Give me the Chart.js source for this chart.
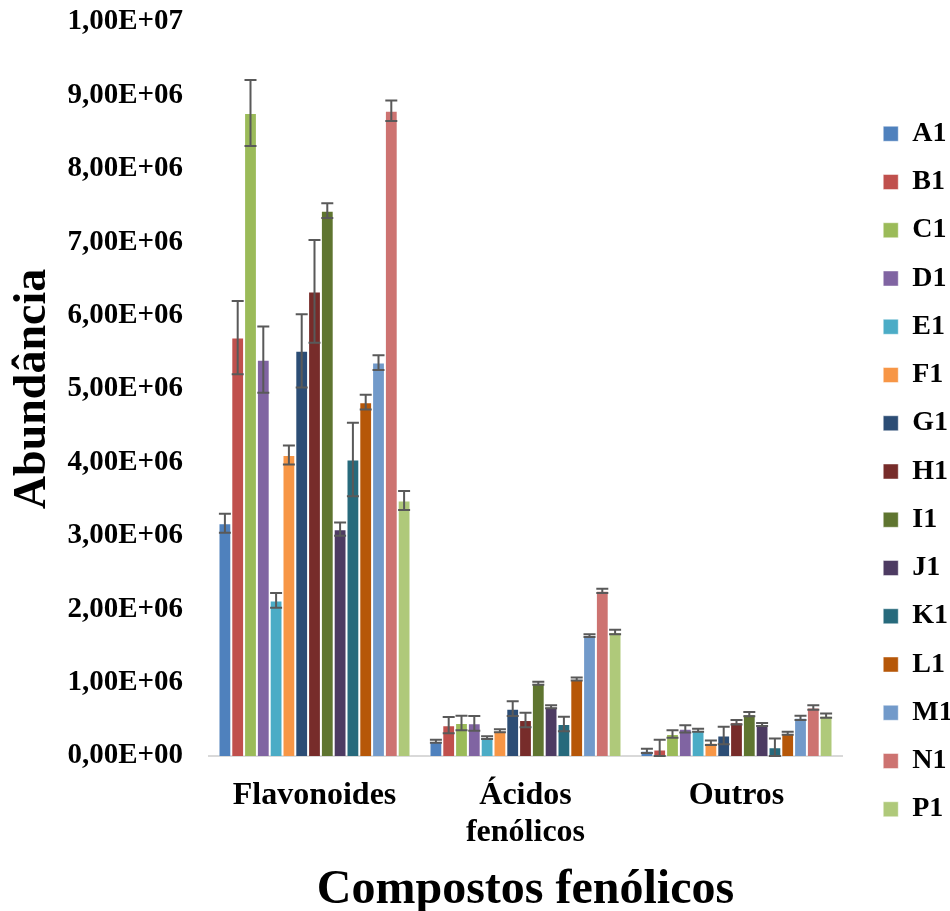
<!DOCTYPE html>
<html lang="pt">
<head>
    <meta charset="UTF-8">
    <title>Compostos fenólicos</title>
    <script src="https://cdn.jsdelivr.net/npm/chart.js"></script>
    <style>
        * { margin: 0; padding: 0; box-sizing: border-box; }
        body { background: #fff; }
        .chart-box { width: 950px; height: 911px; }
    </style>
</head>
<body>
    <div class="chart-box">
        <canvas id="phenolChart"></canvas>
    </div>

    <script>
        // categories on the x axis
        const categories = ['Flavonoides', ['Ácidos', 'fenólicos'], 'Outros'];
        // samples (one bar series each)
        const samples = ['A1', 'B1', 'C1', 'D1', 'E1', 'F1', 'G1', 'H1', 'I1', 'J1', 'K1', 'L1', 'M1', 'N1', 'P1'];

        // abundance per sample, one array per category
        const flavonoides    = [3.17e6, 5.70e6, 8.76e6, 5.40e6, 2.12e6, 4.10e6, 5.52e6, 6.33e6, 7.43e6, 3.09e6, 4.04e6, 4.82e6, 5.36e6, 8.79e6, 3.48e6];
        const acidos         = [0.20e6, 0.42e6, 0.45e6, 0.445e6, 0.25e6, 0.345e6, 0.645e6, 0.49e6, 0.99e6, 0.67e6, 0.436e6, 1.05e6, 1.64e6, 2.25e6, 1.69e6];
        const outros         = [0.07e6, 0.09e6, 0.30e6, 0.37e6, 0.35e6, 0.18e6, 0.28e6, 0.46e6, 0.57e6, 0.43e6, 0.12e6, 0.31e6, 0.52e6, 0.66e6, 0.55e6];

        // error bar half-widths
        const flavonoidesErr = [0.13e6, 0.50e6, 0.45e6, 0.45e6, 0.10e6, 0.13e6, 0.50e6, 0.70e6, 0.10e6, 0.09e6, 0.50e6, 0.10e6, 0.10e6, 0.14e6, 0.13e6];
        const acidosErr      = [0.02e6, 0.11e6, 0.10e6, 0.10e6, 0.02e6, 0.02e6, 0.10e6, 0.10e6, 0.02e6, 0.02e6, 0.10e6, 0.02e6, 0.02e6, 0.03e6, 0.03e6];
        const outrosErr      = [0.03e6, 0.13e6, 0.05e6, 0.05e6, 0.02e6, 0.03e6, 0.12e6, 0.03e6, 0.03e6, 0.02e6, 0.12e6, 0.02e6, 0.03e6, 0.03e6, 0.03e6];

        const yTicks = { min: 0, max: 1e7, step: 1e6 };

        const colors = ['#4F81BD', '#C0504D', '#9BBB59', '#8064A2', '#4BACC6', '#F79646', '#2C4D75',
                        '#772C2A', '#5F7530', '#4D3B62', '#276A7C', '#B65708', '#729ACA', '#CD7371', '#AFC97A'];

        const font = 'Liberation Serif, Times New Roman, serif';
        Chart.defaults.color = '#000';
        Chart.defaults.font.family = font;
        Chart.defaults.font.weight = 'bold';

        const datasets = samples.map((name, i) => ({
            label: name,
            data: [flavonoides[i], acidos[i], outros[i]],
            errors: [flavonoidesErr[i], acidosErr[i], outrosErr[i]],
            backgroundColor: colors[i],
            borderColor: 'rgba(255,255,255,0.45)',
            borderWidth: 1,
            categoryPercentage: 0.91,
            barPercentage: 1.0
        }));

        // format like Excel: 1,00E+07
        function sciLabel(v) {
            if (v === 0) return '0,00E+00';
            const exp = Math.floor(Math.log10(v) + 1e-9);
            const mant = (v / Math.pow(10, exp)).toFixed(2).replace('.', ',');
            return mant + 'E+' + String(exp).padStart(2, '0');
        }

        const errorBars = {
            id: 'errorBars',
            afterDatasetsDraw(chart) {
                const ctx = chart.ctx;
                const y = chart.scales.y;
                ctx.save();
                ctx.strokeStyle = '#595959';
                ctx.lineWidth = 2;
                chart.data.datasets.forEach((ds, di) => {
                    const meta = chart.getDatasetMeta(di);
                    meta.data.forEach((bar, j) => {
                        const v = ds.data[j], e = ds.errors[j];
                        const top = y.getPixelForValue(v + e);
                        const bot = y.getPixelForValue(Math.max(v - e, 0));
                        const half = 6;
                        ctx.beginPath();
                        ctx.moveTo(bar.x, top); ctx.lineTo(bar.x, bot);
                        ctx.moveTo(bar.x - half, top); ctx.lineTo(bar.x + half, top);
                        ctx.moveTo(bar.x - half, bot); ctx.lineTo(bar.x + half, bot);
                        ctx.stroke();
                    });
                });
                ctx.restore();
            }
        };

        new Chart(document.getElementById('phenolChart'), {
            type: 'bar',
            data: { labels: categories, datasets: datasets },
            plugins: [errorBars],
            options: {
                responsive: true,
                maintainAspectRatio: false,
                animation: false,
                layout: { padding: { left: 10, top: 5, right: 0, bottom: 0 } },
                plugins: {
                    tooltip: { enabled: false },
                    legend: {
                        position: 'right',
                        maxWidth: 87,
                        title: { display: true, text: '', padding: 0, font: { size: 27, lineHeight: 1 } },
                        labels: {
                            boxWidth: 15,
                            boxHeight: 15,
                            padding: 20.25,
                            font: { size: 28, weight: 'bold', family: font }
                        }
                    }
                },
                scales: {
                    x: {
                        grid: { display: false, drawTicks: false },
                        border: { display: true, color: '#d9d9d9', width: 2 },
                        ticks: {
                            padding: 21,
                            maxRotation: 0,
                            font: { size: 32, weight: 'bold', lineHeight: 1.16 }
                        },
                        title: {
                            display: true,
                            text: 'Compostos fenólicos',
                            padding: { top: 0, bottom: 0 },
                            font: { size: 48, weight: 'bold', lineHeight: 0.83 }
                        },
                        afterFit: s => { s.height = 155; }
                    },
                    y: {
                        min: yTicks.min,
                        max: yTicks.max,
                        grid: { display: false, drawTicks: false },
                        border: { display: false },
                        ticks: {
                            stepSize: yTicks.step,
                            padding: 26,
                            font: { size: 29, weight: 'bold' },
                            callback: v => sciLabel(v)
                        },
                        title: {
                            display: true,
                            text: 'Abundância',
                            padding: { top: 0, bottom: 12 },
                            font: { size: 46, weight: 'bold', lineHeight: 1 }
                        },
                        afterFit: s => { s.width = 199; s.paddingTop = 22; }
                    },
                    gap: {
                        position: 'right',
                        display: true,
                        grid: { display: false, drawTicks: false },
                        border: { display: false },
                        ticks: { display: false },
                        afterFit: s => { s.width = 21; }
                    }
                }
            }
        });
    </script>
</body>
</html>
